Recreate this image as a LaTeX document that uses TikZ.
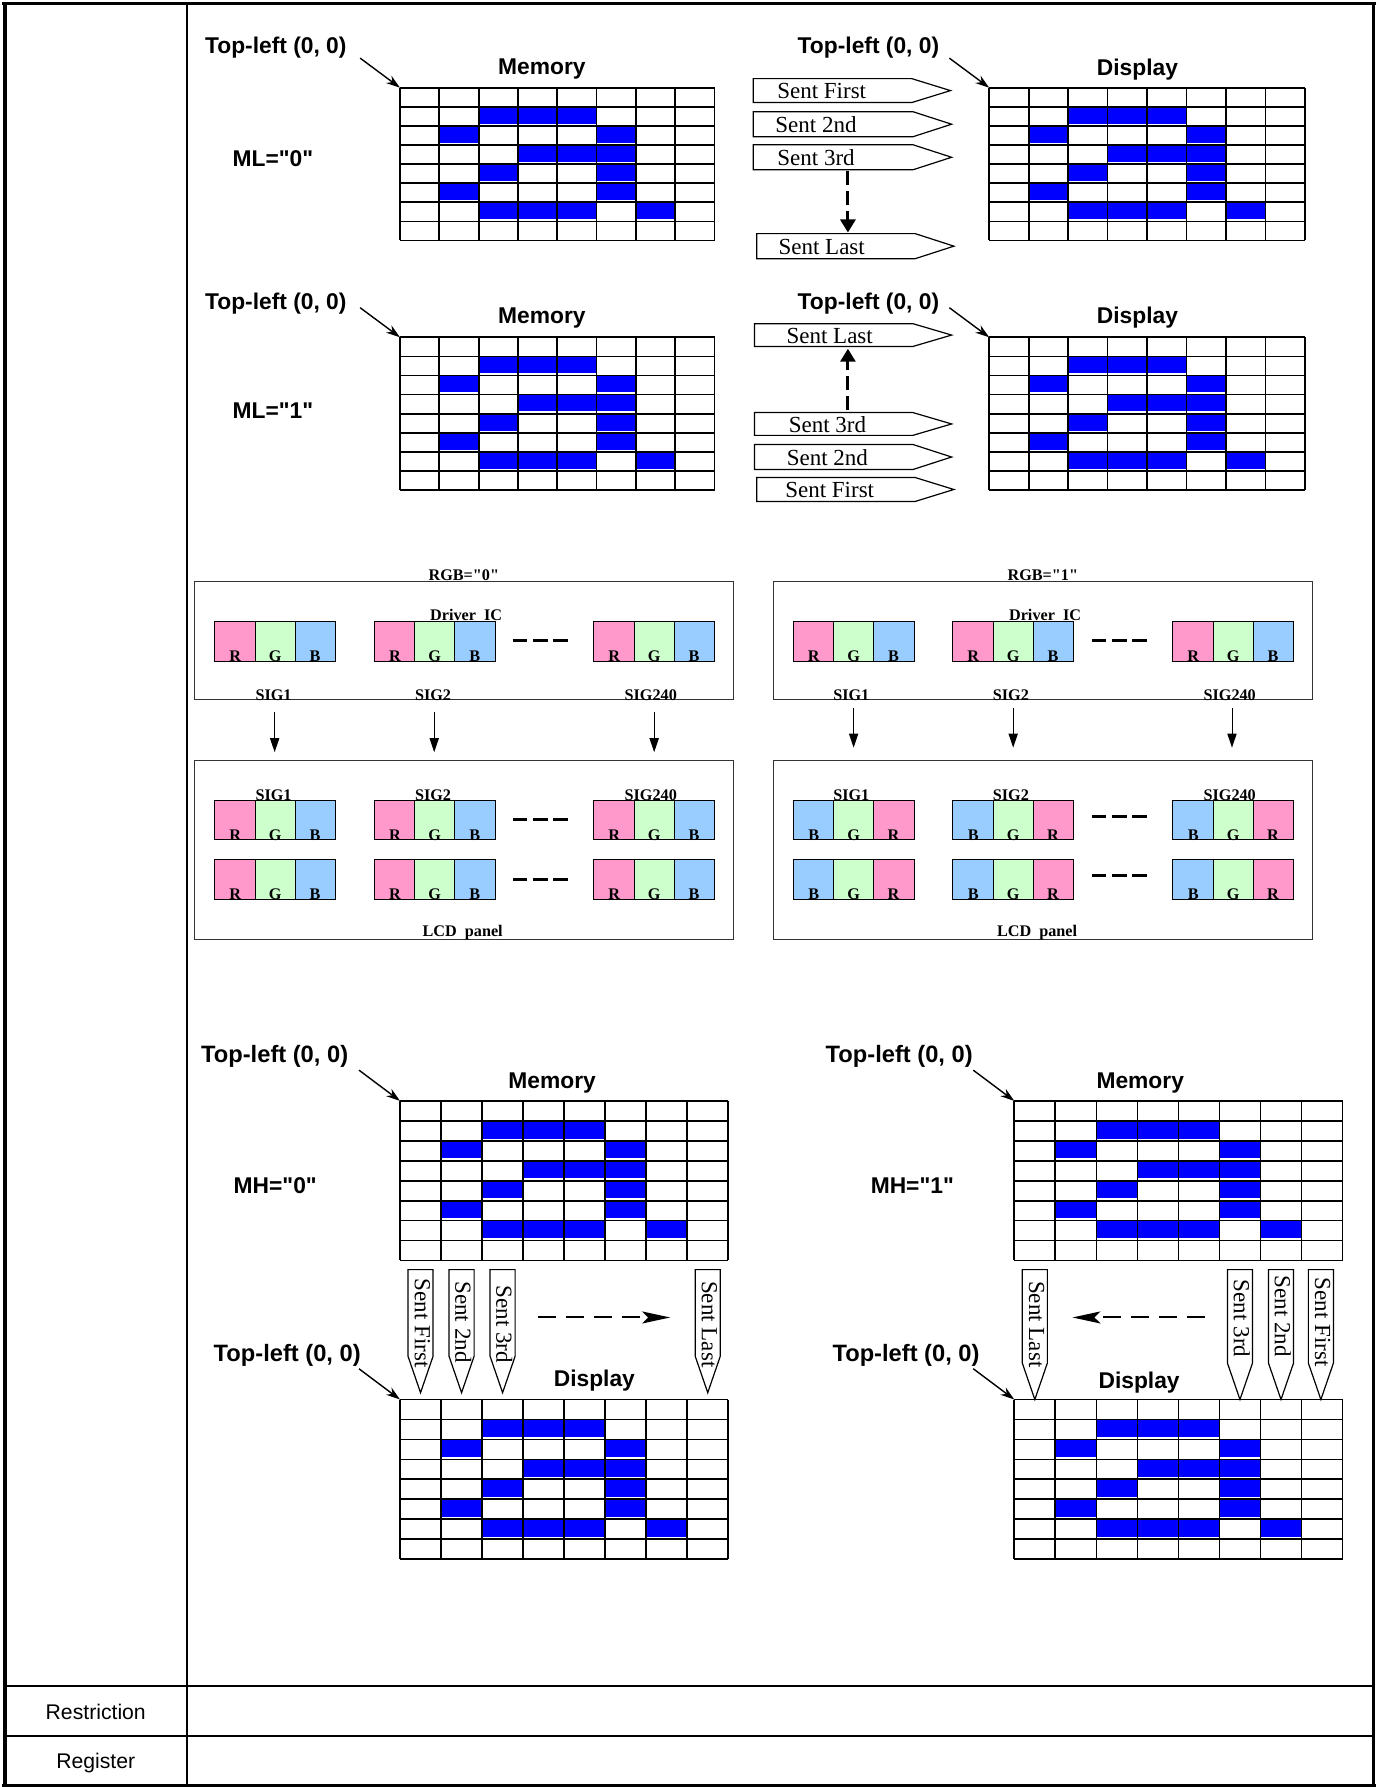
\documentclass[tikz,border=0pt]{standalone}
\usepackage{fontspec}
\newfontfamily\hlv{Liberation Sans}
\newfontfamily\srf{Liberation Serif}
\usetikzlibrary{arrows.meta}
\definecolor{cellblue}{HTML}{0000FF}
\definecolor{lcdR}{HTML}{FF99CC}
\definecolor{lcdG}{HTML}{CCFFCC}
\definecolor{lcdB}{HTML}{99CCFF}
\tikzset{
  x=0.57pt,y=-0.57pt,
  frameline/.style={line width=1.2pt,black},
  gridline/.style={line width=0.85pt,black},
  headtxt/.style={font=\fontsize{11.4}{13}\hlv\bfseries,inner sep=0pt},
  headtxtb/.style={font=\fontsize{11.85}{13}\hlv\bfseries,inner sep=0pt},
  plaintxt/.style={font=\fontsize{10.6}{12}\hlv,inner sep=0pt},
  senttxt/.style={font=\fontsize{11.5}{13}\srf,inner sep=0pt},
  smalltxt/.style={font=\fontsize{8.1}{10}\srf\bfseries,inner sep=0pt},
  sentbox/.style={line width=0.6pt,black,fill=white,line join=miter},
  originarrow/.style={line width=0.7pt,-{Stealth[length=7pt,width=4.5pt]}},
  sentarrow/.style={line width=1.5pt,dash pattern=on 7pt off 3pt,-{Triangle[length=6.5pt,width=7.5pt]}},
  sigarrow/.style={line width=0.5pt,-{Triangle[length=7pt,width=4.6pt]}},
  flowarrow/.style={line width=1pt,dash pattern=on 9pt off 5pt,-{Stealth[length=14pt,width=6pt,inset=3pt]}},
  gapdash/.style={line width=1.5pt,dash pattern=on 7.3pt off 2.75pt},
  panelbox/.style={line width=0.5pt,black!80},
  cellline/.style={line width=0.5pt,black},
}
% memory/display grid: x0 y0 x1 y1
\newcommand\pixgrid[4]{%
  \pgfmathsetmacro\cw{(#3-#1)/8}%
  \pgfmathsetmacro\ch{(#4-#2)/8}%
  \foreach \r/\cols in {1/{2,3,4},2/{1,5},3/{3,4,5},4/{2,5},5/{1,5},6/{2,3,4,6}}{%
    \foreach \c in \cols {%
      \fill[cellblue] ({#1+\c*\cw},{#2+\r*\ch}) rectangle ({#1+(\c+1)*\cw},{#2+(\r+1)*\ch-2});
    }%
  }%
  \foreach \i in {0,...,8}{%
    \draw[gridline] ({#1+\i*\cw},#2) -- ({#1+\i*\cw},#4);
    \draw[gridline] (#1,{#2+\i*\ch}) -- (#3,{#2+\i*\ch});
  }%
}
% horizontal tag: x0 xhead xtip y0 y1 textx text
\newcommand\senth[7]{%
  \draw[sentbox] (#1,#4) -- (#2,#4) -- (#3,{(#4+#5)/2}) -- (#2,#5) -- (#1,#5) -- cycle;
  \node[senttxt] at (#6,{(#4+#5)/2+0.7}) {#7};
}
% vertical tag: x0 x1 ytop yhead ytip texty text
\newcommand\sentv[7]{%
  \draw[sentbox] (#1,#3) -- (#2,#3) -- (#2,#4) -- ({(#1+#2)/2},#5) -- (#1,#4) -- cycle;
  \node[senttxt,rotate=-90] at ({(#1+#2)/2+1.5},#6) {#7};
}
% RGB triple: x y colours and letters
\newcommand\triple[8]{%
  \fill[#3] (#1,#2) rectangle ({#1+35.33},{#2+35});
  \fill[#4] ({#1+35.33},#2) rectangle ({#1+70.67},{#2+35});
  \fill[#5] ({#1+70.67},#2) rectangle ({#1+106},{#2+35});
  \draw[cellline] (#1,#2) rectangle ({#1+106},{#2+35});
  \draw[cellline] ({#1+35.33},#2) -- ({#1+35.33},{#2+35});
  \draw[cellline] ({#1+70.67},#2) -- ({#1+70.67},{#2+35});
  \node[smalltxt] at ({#1+18},{#2+30.5}) {#6};
  \node[smalltxt] at ({#1+53},{#2+30.5}) {#7};
  \node[smalltxt] at ({#1+88},{#2+30.5}) {#8};
}
\begin{document}
\begin{tikzpicture}
\useasboundingbox (0,0) rectangle (1210,1568);
\fill[white] (0,0) rectangle (1210,1568);
% table frame
\draw[line width=2pt] (4,2) -- (4,1567);
\draw[line width=1.6pt] (1205,2) -- (1205,1567);
\draw[line width=1.5pt] (2,3) -- (1207,3);
\draw[line width=1.5pt] (2,1566.5) -- (1207,1566.5);
\draw[frameline] (164,3) -- (164,1566);
\draw[frameline] (4,1479.5) -- (1205,1479.5);
\draw[frameline] (4,1523) -- (1205,1523);
\node[plaintxt] (restr) at (84,1502) {Restriction};
\node[plaintxt] (regis) at (84,1546.5) {Register};

% ML section
\pixgrid{351}{77}{627}{211}
\pixgrid{868}{77}{1145}{211}
\pixgrid{351}{296}{627}{430}
\pixgrid{868}{296}{1145}{430}
\coordinate (mlA) at (351,77); \coordinate (mlB) at (868,77);
\coordinate (mlC) at (351,296); \coordinate (mlD) at (868,296);
\coordinate (sA) at (316,51); \coordinate (sB) at (833,51);
\coordinate (sC) at (316,270); \coordinate (sD) at (833,270);
\draw[originarrow] (sA) -- (mlA);
\draw[originarrow] (sB) -- (mlB);
\draw[originarrow] (sC) -- (mlC);
\draw[originarrow] (sD) -- (mlD);
\node[headtxt] (t1) at (242,42) {Top-left (0, 0)};
\node[headtxt] (t2) at (762,42) {Top-left (0, 0)};
\node[headtxt] (t3) at (242,266) {Top-left (0, 0)};
\node[headtxt] (t4) at (762,266) {Top-left (0, 0)};
\node[headtxt] (m1) at (475.5,61) {Memory};
\node[headtxt] (d1) at (998,61) {Display};
\node[headtxt] (m2) at (475.5,279) {Memory};
\node[headtxt] (d2) at (998,279) {Display};
\node[headtxt] (ml0) at (239.5,139) {ML="0"};
\node[headtxt] (ml1) at (239.5,360) {ML="1"};
\senth{661}{800}{834}{69}{90}{721}{Sent First}
\senth{661}{801}{835}{98}{120}{716}{Sent 2nd}
\senth{661}{801}{835}{127}{149}{716}{Sent 3rd}
\senth{664}{803}{837}{205}{227}{721}{Sent Last}
\senth{662}{801}{835}{284}{304}{728}{Sent Last}
\senth{662}{801}{835}{362}{382}{726}{Sent 3rd}
\senth{662}{801}{835}{390}{412}{726}{Sent 2nd}
\senth{664}{803}{837}{419}{440}{728}{Sent First}
\coordinate (fa1) at (744,150); \coordinate (fa2) at (744,204);
\coordinate (fb1) at (744,360); \coordinate (fb2) at (744,306);
\draw[sentarrow] (fa1) -- (fa2);
\draw[sentarrow] (fb1) -- (fb2);

% RGB section
\draw[panelbox] (171,510) rectangle (644,614);
\draw[panelbox] (171,667) rectangle (644,824);
\draw[panelbox] (679,510) rectangle (1152,614);
\draw[panelbox] (679,667) rectangle (1152,824);
\foreach \x in {188.5,328.5,521}{
  \triple{\x}{545}{lcdR}{lcdG}{lcdB}{R}{G}{B}
  \triple{\x}{702}{lcdR}{lcdG}{lcdB}{R}{G}{B}
  \triple{\x}{754}{lcdR}{lcdG}{lcdB}{R}{G}{B}
}
\foreach \x in {696,836,1029}{
  \triple{\x}{545}{lcdR}{lcdG}{lcdB}{R}{G}{B}
  \triple{\x}{702}{lcdB}{lcdG}{lcdR}{B}{G}{R}
  \triple{\x}{754}{lcdB}{lcdG}{lcdR}{B}{G}{R}
}
\node[smalltxt] (rgb0) at (407,505) {RGB="0"};
\node[smalltxt] (rgb1) at (915,505) {RGB="1"};
\node[smalltxt] (drv0) at (409,540) {Driver\ \ IC};
\node[smalltxt] (drv1) at (917,540) {Driver\ \ IC};
\node[smalltxt] (lcd0) at (406,818) {LCD\ \ panel};
\node[smalltxt] (lcd1) at (910,818) {LCD\ \ panel};
\foreach \x/\t/\n in {240/SIG1/a,380/SIG2/b,571/SIG240/c,747/SIG1/d,887/SIG2/e,1079/SIG240/f}{
  \node[smalltxt] (up\n) at (\x,610) {\t};
  \node[smalltxt] (lo\n) at (\x,698) {\t};
}
\foreach \x/\n in {241/a,381/b,574/c}{
  \coordinate (as\n) at (\x,625); \coordinate (ae\n) at (\x,660);
  \draw[sigarrow] (as\n) -- (ae\n);
}
\foreach \x/\n in {749/d,889/e,1081/f}{
  \coordinate (as\n) at (\x,621); \coordinate (ae\n) at (\x,656);
  \draw[sigarrow] (as\n) -- (ae\n);
}
\foreach \y in {562,719,772}{ \draw[gapdash] (450,\y) -- (498,\y); }
\foreach \y in {562,716,768}{ \draw[gapdash] (958,\y) -- (1006,\y); }

% MH section
\pixgrid{351}{966}{639}{1106}
\pixgrid{351}{1228}{639}{1368}
\pixgrid{890}{966}{1178}{1106}
\pixgrid{890}{1228}{1178}{1368}
\coordinate (mhA) at (351,966); \coordinate (mhB) at (890,966);
\coordinate (mhC) at (351,1228); \coordinate (mhD) at (890,1228);
\coordinate (shA) at (315,939); \coordinate (shB) at (854,939);
\coordinate (shC) at (315,1201); \coordinate (shD) at (854,1201);
\draw[originarrow] (shA) -- (mhA);
\draw[originarrow] (shB) -- (mhB);
\draw[originarrow] (shC) -- (mhC);
\draw[originarrow] (shD) -- (mhD);
\node[headtxtb] (t5) at (241,927) {Top-left (0, 0)};
\node[headtxtb] (t6) at (789,927) {Top-left (0, 0)};
\node[headtxtb] (t7) at (252,1189) {Top-left (0, 0)};
\node[headtxtb] (t8) at (795,1189) {Top-left (0, 0)};
\node[headtxt] (m3) at (484.5,950) {Memory};
\node[headtxt] (m4) at (1000.5,950) {Memory};
\node[headtxt] (d3) at (521.5,1211) {Display};
\node[headtxt] (d4) at (999.5,1213) {Display};
\node[headtxt] (mh0) at (241.5,1040) {MH="0"};
\node[headtxt] (mh1) at (800.5,1040) {MH="1"};
\sentv{358}{380}{1114}{1190}{1222}{1161}{Sent First}
\sentv{394}{416}{1114}{1190}{1222}{1160}{Sent 2nd}
\sentv{430}{452}{1114}{1190}{1222}{1162}{Sent 3rd}
\sentv{610}{632}{1114}{1190}{1222}{1162}{Sent Last}
\sentv{897}{919}{1114}{1196}{1228}{1162}{Sent Last}
\sentv{1077}{1099}{1114}{1196}{1228}{1157}{Sent 3rd}
\sentv{1113}{1135}{1114}{1196}{1228}{1155}{Sent 2nd}
\sentv{1148}{1170}{1114}{1196}{1228}{1160}{Sent First}
\coordinate (fc1) at (472,1156); \coordinate (fc2) at (588,1156);
\coordinate (fd1) at (1057,1156); \coordinate (fd2) at (941,1156);
\draw[flowarrow] (fc1) -- (fc2);
\draw[flowarrow] (fd1) -- (fd2);
\end{tikzpicture}
\end{document}
